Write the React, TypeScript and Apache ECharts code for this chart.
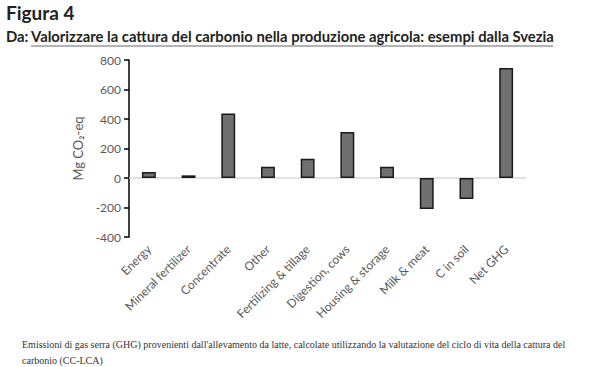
import React, { useEffect, useRef } from "react";
import * as echarts from "echarts";

const categories = [
  "Energy",
  "Mineral fertilizer",
  "Concentrate",
  "Other",
  "Fertilizing & tillage",
  "Digestion, cows",
  "Housing & storage",
  "Milk & meat",
  "C in soil",
  "Net GHG",
];
const values = [40, 18, 438, 76, 130, 312, 76, -210, -142, 745];
const yTicks = { min: -400, max: 800, interval: 200 };

const figTitle = "Figura 4";
const subPrefix = "Da: ";
const subTitle = "Valorizzare la cattura del carbonio nella produzione agricola: esempi dalla Svezia";
const captionLines = [
  "Emissioni di gas serra (GHG) provenienti dall'allevamento da latte, calcolate utilizzando la valutazione del ciclo di vita della cattura del",
  "carbonio (CC-LCA)",
];

export default function App() {
  const ref = useRef<HTMLDivElement>(null);
  useEffect(() => {
    if (!ref.current) return;
    const chart = echarts.init(ref.current, null, { renderer: "svg" });
    chart.setOption({
      animation: false,
      backgroundColor: "#ffffff",
      grid: { left: 129, right: 76, top: 60, bottom: 130, containLabel: false },
      xAxis: {
        type: "category",
        data: categories,
        axisLine: { show: false, onZero: false },
        axisTick: { show: false },
        axisLabel: {
          rotate: 45,
          interval: 0,
          margin: 10,
          color: "#595959",
          fontFamily: "Lato",
          fontSize: 12,
        },
      },
      yAxis: {
        type: "value",
        min: yTicks.min,
        max: yTicks.max,
        interval: yTicks.interval,
        name: "Mg CO\u2082-eq",
        nameLocation: "middle",
        nameGap: 42,
        nameRotate: 90,
        nameTextStyle: { color: "#595959", fontFamily: "Lato", fontSize: 13 },
        axisLine: { show: true, lineStyle: { color: "#000000", width: 1.5 } },
        axisTick: { show: true, length: 5, lineStyle: { color: "#000000", width: 1.5 } },
        axisLabel: { color: "#595959", fontFamily: "Lato", fontSize: 12, margin: 8 },
        splitLine: { show: false },
      },
      series: [
        {
          type: "bar",
          data: values,
          barWidth: "35%",
          itemStyle: { color: "#707070", borderColor: "#1a1a1a", borderWidth: 1.5 },
          markLine: {
            silent: true,
            symbol: "none",
            label: { show: false },
            lineStyle: { color: "#d9d9d9", type: "solid", width: 1.5 },
            data: [{ yAxis: 0 }],
            z: 1,
          },
        },
      ],
      graphic: [
        {
          type: "text",
          left: 6,
          top: 3,
          style: { text: figTitle, font: "bold 19px Lato", fill: "#222222" },
        },
        {
          type: "text",
          left: 6,
          top: 28,
          style: { text: subPrefix, font: "bold 14.8px Lato", fill: "#222222" },
        },
        {
          type: "text",
          left: 31,
          top: 28,
          style: { text: subTitle, font: "bold 14.8px Lato", fill: "#222222" },
        },
        {
          type: "line",
          shape: { x1: 31, y1: 46, x2: 553, y2: 46 },
          style: { stroke: "#9a9a9a", lineWidth: 1.5 },
        },
        {
          type: "text",
          left: 22,
          top: 339,
          style: { text: captionLines[0], font: "10px 'Liberation Serif'", fill: "#333333" },
        },
        {
          type: "text",
          left: 22,
          top: 355,
          style: { text: captionLines[1], font: "10px 'Liberation Serif'", fill: "#333333" },
        },
      ],
    });
    return () => chart.dispose();
  }, []);
  return (
    <div
      ref={ref}
      style={{ position: "absolute", left: 0, top: 0, width: 602, height: 367 }}
    />
  );
}
